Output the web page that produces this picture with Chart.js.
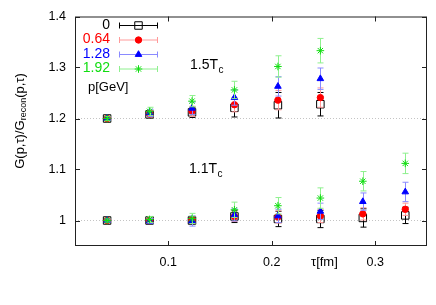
<!DOCTYPE html>
<html>
<head>
<meta charset="utf-8">
<script src="https://cdn.jsdelivr.net/npm/chart.js@4/dist/chart.umd.min.js"></script>
<style>
  html, body { margin: 0; padding: 0; background: #fff; }
  #wrap { width: 436px; height: 305px; position: relative; }
</style>
</head>
<body>
<div id="wrap"><canvas id="chart-ratio"></canvas></div>
<script>
// Euclidean time in fm
const TAU_15 = [0.041, 0.082, 0.123, 0.164, 0.206, 0.247];
const TAU_11 = [0.041, 0.082, 0.123, 0.164, 0.206, 0.247, 0.288, 0.329];

const MOMENTA = ["0", "0.64", "1.28", "1.92"];
const X_TICKS = [0.1, 0.2, 0.3];
const Y_TICKS = [1, 1.1, 1.2, 1.3, 1.4];
const REF_LINES = [1, 1.2];

// 1.5 Tc (plotted with +0.2 offset)
const R15_P0 = [1.200, 1.208, 1.212, 1.221, 1.226, 1.228];
const E15_P0 = [0.003, 0.005, 0.010, 0.018, 0.025, 0.023];
const R15_P064 = [1.200, 1.209, 1.214, 1.227, 1.236, 1.241];
const E15_P064 = [0.003, 0.006, 0.010, 0.014, 0.019, 0.019];
const R15_P128 = [1.200, 1.211, 1.220, 1.241, 1.263, 1.278];
const E15_P128 = [0.003, 0.007, 0.012, 0.015, 0.019, 0.021];
const R15_P192 = [1.200, 1.214, 1.234, 1.256, 1.302, 1.333];
const E15_P192 = [0.004, 0.008, 0.011, 0.017, 0.021, 0.024];

// 1.1 Tc
const R11_P0 = [1.000, 1.000, 1.000, 1.008, 1.003, 1.003, 1.005, 1.010];
const E11_P0 = [0.003, 0.004, 0.006, 0.012, 0.015, 0.017, 0.018, 0.016];
const R11_P064 = [1.000, 1.000, 1.001, 1.008, 1.007, 1.009, 1.013, 1.022];
const E11_P064 = [0.003, 0.004, 0.006, 0.010, 0.012, 0.013, 0.012, 0.012];
const R11_P128 = [1.000, 0.999, 0.999, 1.011, 1.009, 1.018, 1.037, 1.056];
const E11_P128 = [0.003, 0.005, 0.010, 0.012, 0.013, 0.016, 0.017, 0.019];
const R11_P192 = [1.000, 1.002, 1.004, 1.021, 1.029, 1.044, 1.077, 1.112];
const E11_P192 = [0.003, 0.006, 0.010, 0.015, 0.016, 0.020, 0.019, 0.020];

const FONT = "'Liberation Sans', Arial, Helvetica, sans-serif";

// marker / error bar style per momentum
const STYLES = [
  { color: "#000000", bar: "#000000", text: "#000000", point: "rect", radius: 5.3, fill: "transparent" },
  { color: "#ff0000", bar: "#ff9a9a", text: "#ff0000", point: "circle", radius: 3.2, fill: "#ff0000" },
  { color: "#0000ff", bar: "#8a8aff", text: "#0000ff", point: "triangle", radius: 3.8, fill: "#0000ff" },
  { color: "#11dd11", bar: "#8ef08e", text: "#11dd11", point: "star", radius: 3.8, fill: "transparent" },
];

const SERIES_15 = [[R15_P0, E15_P0], [R15_P064, E15_P064], [R15_P128, E15_P128], [R15_P192, E15_P192]];
const SERIES_11 = [[R11_P0, E11_P0], [R11_P064, E11_P064], [R11_P128, E11_P128], [R11_P192, E11_P192]];

const makeDataset = (tau, pair, i, group) => {
  const st = STYLES[i];
  return {
    label: MOMENTA[i] + " " + group,
    data: tau.map((x, k) => ({ x: x, y: pair[0][k] })),
    errors: pair[1],
    barColor: st.bar,
    pointStyle: st.point,
    pointRadius: st.radius,
    pointHoverRadius: st.radius,
    pointBorderWidth: 1,
    borderColor: st.color,
    backgroundColor: st.fill,
    showLine: false,
    order: 10 - i,
  };
};

const DATASETS = [];
SERIES_15.forEach((p, i) => DATASETS.push(makeDataset(TAU_15, p, i, "1.5Tc")));
SERIES_11.forEach((p, i) => DATASETS.push(makeDataset(TAU_11, p, i, "1.1Tc")));

// small marker painter for the hand made key
const drawMarker = (ctx, st, x, y) => {
  const r = st.radius;
  ctx.save();
  ctx.lineWidth = 1;
  ctx.strokeStyle = st.color;
  ctx.fillStyle = st.fill;
  ctx.beginPath();
  if (st.point === "rect") {
    const s = Math.SQRT1_2 * r;
    ctx.rect(x - s, y - s, 2 * s, 2 * s);
    ctx.stroke();
  } else if (st.point === "circle") {
    ctx.arc(x, y, r, 0, Math.PI * 2);
    ctx.fill();
    ctx.stroke();
  } else if (st.point === "triangle") {
    for (let k = 0; k < 3; k++) {
      const a = -Math.PI / 2 + (k * 2 * Math.PI) / 3;
      const px = x + Math.cos(a) * r;
      const py = y + Math.sin(a) * r;
      if (k === 0) ctx.moveTo(px, py); else ctx.lineTo(px, py);
    }
    ctx.closePath();
    ctx.fill();
    ctx.stroke();
  } else {
    for (let k = 0; k < 4; k++) {
      const a = (k * Math.PI) / 4;
      ctx.moveTo(x - Math.cos(a) * r, y - Math.sin(a) * r);
      ctx.lineTo(x + Math.cos(a) * r, y + Math.sin(a) * r);
    }
    ctx.stroke();
  }
  ctx.restore();
};

const vBar = (ctx, x, y0, y1, cap) => {
  ctx.beginPath();
  ctx.moveTo(x, y0);
  ctx.lineTo(x, y1);
  ctx.moveTo(x - cap, y0);
  ctx.lineTo(x + cap, y0);
  ctx.moveTo(x - cap, y1);
  ctx.lineTo(x + cap, y1);
  ctx.stroke();
};

// error bars, drawn under each dataset's markers
const errorBars = {
  id: "errorBars",
  beforeDatasetDraw(chart, args) {
    const ds = chart.data.datasets[args.index];
    const yScale = chart.scales.y;
    const ctx = chart.ctx;
    ctx.save();
    ctx.strokeStyle = ds.barColor;
    ctx.lineWidth = 1;
    args.meta.data.forEach((el, k) => {
      const v = ds.data[k].y;
      const e = ds.errors[k];
      const x = Math.round(el.x) + 0.5;
      vBar(ctx, x, yScale.getPixelForValue(v + e), yScale.getPixelForValue(v - e), 3);
    });
    ctx.restore();
  },
};

// frame, inward ticks, key and annotations
const decorations = {
  id: "decorations",
  afterDraw(chart) {
    const { ctx, chartArea: a, scales } = chart;
    ctx.save();
    ctx.strokeStyle = "#222";
    ctx.lineWidth = 1;
    ctx.strokeRect(a.left + 0.5, a.top + 0.5, a.right - a.left - 1, a.bottom - a.top - 1);
    ctx.beginPath();
    Y_TICKS.forEach((v) => {
      const py = Math.round(scales.y.getPixelForValue(v)) + 0.5;
      ctx.moveTo(a.left, py); ctx.lineTo(a.left + 5, py);
      ctx.moveTo(a.right, py); ctx.lineTo(a.right - 5, py);
    });
    X_TICKS.forEach((v) => {
      const px = Math.round(scales.x.getPixelForValue(v)) + 0.5;
      ctx.moveTo(px, a.bottom); ctx.lineTo(px, a.bottom - 5);
      ctx.moveTo(px, a.top); ctx.lineTo(px, a.top + 5);
    });
    ctx.stroke();

    // key
    const keyY = [25, 39.5, 54, 68.5];
    ctx.textBaseline = "middle";
    MOMENTA.forEach((m, i) => {
      const st = STYLES[i];
      const y = keyY[i];
      ctx.font = "14px " + FONT;
      ctx.fillStyle = st.text;
      ctx.textAlign = "right";
      ctx.fillText(m, 110, y);
      ctx.strokeStyle = st.bar;
      ctx.beginPath();
      ctx.moveTo(119, y + 0.5); ctx.lineTo(158, y + 0.5);
      ctx.moveTo(119.5, y - 2.5); ctx.lineTo(119.5, y + 3.5);
      ctx.moveTo(157.5, y - 2.5); ctx.lineTo(157.5, y + 3.5);
      ctx.stroke();
      drawMarker(ctx, st, 138.5, y + 0.5);
    });
    ctx.fillStyle = "#000";
    ctx.textAlign = "left";
    ctx.font = "13px " + FONT;
    ctx.fillText("p[GeV]", 88, 87);

    // temperature labels
    const tLabel = (txt, x, base) => {
      ctx.textBaseline = "alphabetic";
      ctx.font = "14px " + FONT;
      ctx.fillText(txt, x, base);
      const w = ctx.measureText(txt).width;
      ctx.font = "10px " + FONT;
      ctx.fillText("c", x + w + 0.5, base + 4);
    };
    tLabel("1.5T", 190, 69);
    tLabel("1.1T", 189, 173);

    // x axis label
    ctx.font = "13px " + FONT;
    ctx.textBaseline = "middle";
    ctx.fillText("\u03c4[fm]", 311, 262);

    // y axis title with subscript
    ctx.translate(20, 121);
    ctx.rotate(-Math.PI / 2);
    const big = "13px " + FONT;
    const small = "9px " + FONT;
    const parts = [["G(p,\u03c4)/G", big, 0], ["recon", small, 4], ["(p,\u03c4)", big, 0]];
    let total = 0;
    parts.forEach((p) => { ctx.font = p[1]; total += ctx.measureText(p[0]).width; });
    let cx = -total / 2;
    ctx.textBaseline = "middle";
    parts.forEach((p) => {
      ctx.font = p[1];
      ctx.fillText(p[0], cx, p[2]);
      cx += ctx.measureText(p[0]).width;
    });
    ctx.restore();
  },
};

// Chart config
const CONFIG = {
  type: "scatter",
  data: { datasets: DATASETS },
  options: {
    responsive: true,
    maintainAspectRatio: false,
    animation: false,
    layout: { padding: { top: 14, right: 9, left: 0, bottom: 0 } },
    plugins: {
      legend: { display: false },
      title: { display: false },
      tooltip: { enabled: false },
    },
    scales: {
      x: {
        type: "linear",
        min: 0.01,
        max: 0.35,
        afterBuildTicks: (scale) => { scale.ticks = X_TICKS.map((v) => ({ value: v })); },
        afterFit: (scale) => { scale.height = 59; },
        border: { display: false },
        grid: { display: false, drawTicks: false },
        ticks: {
          padding: 9,
          color: "#000",
          font: { family: FONT, size: 12.5 },
          maxRotation: 0,
          callback: (v) => String(v),
        },
      },
      y: {
        type: "linear",
        min: 0.95,
        max: 1.4,
        afterBuildTicks: (scale) => { scale.ticks = Y_TICKS.map((v) => ({ value: v })); },
        afterFit: (scale) => { scale.width = 75; },
        border: { display: false, dash: [1, 2] },
        grid: {
          drawTicks: false,
          lineWidth: 1,
          color: (ctx) =>
            ctx.tick && REF_LINES.some((r) => Math.abs(ctx.tick.value - r) < 1e-9) ? "#c4c4c4" : "transparent",
        },
        ticks: {
          padding: 9,
          color: "#000",
          font: { family: FONT, size: 12.5 },
          callback: (v) => String(v),
        },
      },
    },
  },
  plugins: [errorBars, decorations],
};

// Init chart
const CHART_WRAPPER = document.getElementById("chart-ratio");
if (CHART_WRAPPER) {
  new Chart(CHART_WRAPPER, CONFIG);
}
</script>
</body>
</html>
